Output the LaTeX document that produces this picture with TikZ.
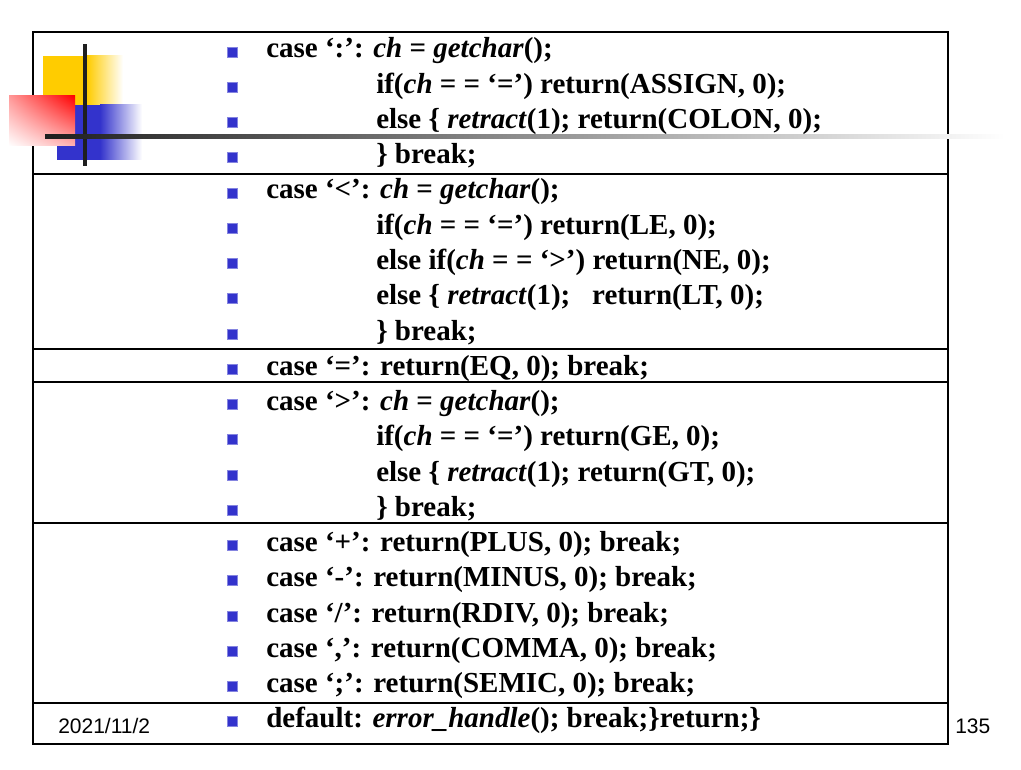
\documentclass[tikz,border=0pt]{standalone}
\usepackage{fontspec}
\usetikzlibrary{shadings}
\setmainfont{Liberation Serif}
\newfontfamily\footfont{Liberation Sans}
\definecolor{bulletblue}{RGB}{51,51,204}
\definecolor{logoyellow}{RGB}{255,204,0}
\tikzset{
  code/.style={anchor=base west, inner sep=0pt, font=\fontsize{21.75}{26}\selectfont\bfseries},
  foot/.style={anchor=base west, inner sep=0pt, font=\footfont\fontsize{15.75}{18}\selectfont},
  bullet/.style={fill=bulletblue, draw=bulletblue!60, line width=0.4pt, minimum size=7.5pt, inner sep=0pt},
  rule/.style={line width=1.5pt},
}
\newcommand{\cf}[1]{\textit{#1}}
\begin{document}
\begin{tikzpicture}[x=0.75pt, y=-0.75pt]
\useasboundingbox (0,0) rectangle (1021,770);
% table frame
\draw[rule] (33,32) rectangle (948,744);
\foreach \y in {174,349,382,523,703}{
\draw[rule] (33,\y) -- (948,\y);
}
% logo
\fill[logoyellow] (43,56) rectangle (87,105);
\shade[left color=logoyellow, right color=white] (87,56) rectangle (123,105);
\fill[bulletblue] (57,105) rectangle (100,160);
\shade[left color=bulletblue, right color=white] (100,105) rectangle (142,160);
\shade[upper right=red, upper left=red!40, lower left=white, lower right=red!30] (9,96) rectangle (75,146);
\fill[black!88] (83,44) rectangle (87,166);
\shade[left color=black!88, middle color=black!50, right color=white] (45,135) rectangle (1005,139);
% bullets
\foreach \i in {0,...,19}{
\node[bullet] (b\i) at (232, {52+35.25*\i}) {};
}
% code lines
\node[code] (c0) at (266,58) {case ‘:’: \cf{ch} = \cf{getchar}();};
\node[code] (c1) at (376,93.25) {if(\cf{ch} = = ‘=’) return(ASSIGN, 0);};
\node[code] (c2) at (376,128.5) {else \{ \cf{retract}(1); return(COLON, 0);};
\node[code] (c3) at (376,163.75) {\} break;};
\node[code] (c4) at (266,199) {case ‘<’: \cf{ch} = \cf{getchar}();};
\node[code] (c5) at (376,234.25) {if(\cf{ch} = = ‘=’) return(LE, 0);};
\node[code] (c6) at (376,269.5) {else if(\cf{ch} = = ‘>’) return(NE, 0);};
\node[code] (c7) at (376,304.75) {else \{ \cf{retract}(1);\ \ \ return(LT, 0);};
\node[code] (c8) at (376,340) {\} break;};
\node[code] (c9) at (266,375.25) {case ‘=’: return(EQ, 0); break;};
\node[code] (c10) at (266,410.5) {case ‘>’: \cf{ch} = \cf{getchar}();};
\node[code] (c11) at (376,445.75) {if(\cf{ch} = = ‘=’) return(GE, 0);};
\node[code] (c12) at (376,481) {else \{ \cf{retract}(1); return(GT, 0);};
\node[code] (c13) at (376,516.25) {\} break;};
\node[code] (c14) at (266,551.5) {case ‘+’: return(PLUS, 0); break;};
\node[code] (c15) at (266,586.75) {case ‘-’: return(MINUS, 0); break;};
\node[code] (c16) at (266,622) {case ‘/’: return(RDIV, 0); break;};
\node[code] (c17) at (266,657.25) {case ‘,’: return(COMMA, 0); break;};
\node[code] (c18) at (266,692.5) {case ‘;’: return(SEMIC, 0); break;};
\node[code] (c19) at (266,727.75) {default: \cf{error\_handle}(); break;\}return;\}};
% footer
\node[foot] (date) at (58,733) {2021/11/2};
\node[foot] (page) at (955,733) {135};
\end{tikzpicture}
\end{document}
